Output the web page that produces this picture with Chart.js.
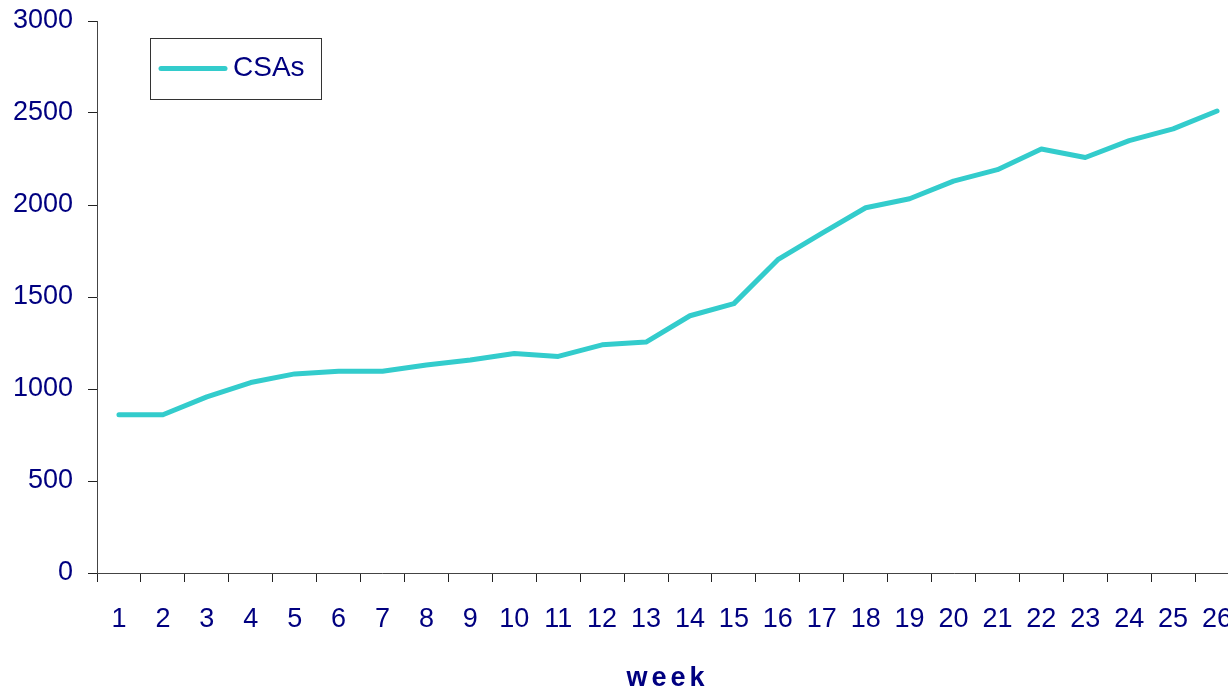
<!DOCTYPE html>
<html>
<head>
<meta charset="utf-8">
<title>CSAs per week</title>
<script src="https://cdn.jsdelivr.net/npm/chart.js@4.4.0/dist/chart.umd.min.js"></script>
<style>
  html, body { margin: 0; padding: 0; background: #fff; overflow: hidden; }
  #wrap { position: relative; width: 1239px; height: 692px; }
</style>
</head>
<body>
<div id="wrap"><canvas id="myChart"></canvas></div>
<script>
// weekly totals
var weeks = [1, 2, 3, 4, 5, 6, 7, 8, 9, 10, 11, 12, 13, 14, 15, 16, 17, 18, 19, 20, 21, 22, 23, 24, 25, 26];
var csaCounts = [860, 860, 957, 1035, 1082, 1096, 1096, 1130, 1158, 1193, 1177, 1240, 1255,
  1398, 1464, 1703, 1846, 1985, 2034, 2130, 2192, 2304, 2258, 2350, 2414, 2511];
var yMin = 0;
var yMax = 3000;
var yStep = 500;
var xTitle = "week";

var navy = "#000080";
var teal = "#33cccc";
var fontFamily = "'Liberation Sans', Arial, sans-serif";

// boxed legend sitting inside the plot area
var boxLegend = {
  id: "boxLegend",
  afterDraw: function (chart) {
    var ctx = chart.ctx;
    var ds = chart.data.datasets[0];
    ctx.save();
    ctx.strokeStyle = "#333";
    ctx.lineWidth = 1;
    ctx.strokeRect(150.5, 38.5, 171, 61);
    ctx.strokeStyle = ds.borderColor;
    ctx.lineWidth = 5;
    ctx.lineCap = "round";
    ctx.beginPath();
    ctx.moveTo(161, 68.5);
    ctx.lineTo(225, 68.5);
    ctx.stroke();
    ctx.fillStyle = navy;
    ctx.font = "28px " + fontFamily;
    ctx.textBaseline = "middle";
    ctx.fillText(ds.label, 233, 68);
    ctx.restore();
  },
};

// x axis title, spaced out
var spacedTitle = {
  id: "spacedTitle",
  afterDraw: function (chart) {
    var ctx = chart.ctx;
    var x = chart.scales.x;
    ctx.save();
    ctx.letterSpacing = "4px";
    ctx.fillStyle = navy;
    ctx.font = "bold 27px " + fontFamily;
    ctx.textAlign = "center";
    ctx.textBaseline = "middle";
    ctx.fillText(xTitle, (x.left + 1228) / 2 + 5, 679);
    ctx.restore();
  },
};

// drop the label overhang padding so the plot area is set by layout.padding only
function noOverhang(scale) {
  scale.paddingTop = 0;
  scale.paddingBottom = 0;
  scale.paddingLeft = 0;
  scale.paddingRight = 0;
}

var ctx = document.getElementById("myChart").getContext("2d");
var myChart = new Chart(ctx, {
  type: "line",
  data: {
    labels: weeks,
    datasets: [
      {
        label: "CSAs",
        data: csaCounts,
        borderColor: teal,
        backgroundColor: teal,
        borderWidth: 5,
        borderCapStyle: "round",
        borderJoinStyle: "round",
        pointRadius: 0,
        pointHoverRadius: 0,
        tension: 0,
        fill: false,
      },
    ],
  },
  options: {
    responsive: true,
    maintainAspectRatio: false,
    animation: false,
    layout: { padding: { top: 21, right: 0, left: 0, bottom: 0 } },
    plugins: {
      legend: { display: false },
      tooltip: { enabled: false },
    },
    scales: {
      x: {
        type: "category",
        offset: true,
        grid: {
          offset: true,
          drawOnChartArea: false,
          drawTicks: true,
          tickLength: 9,
          tickColor: "#222",
          tickWidth: 1,
        },
        border: { color: "#444", width: 1 },
        ticks: {
          color: navy,
          font: { family: fontFamily, size: 27 },
          padding: 21,
          maxRotation: 0,
          autoSkip: false,
        },
        afterFit: function (scale) {
          scale.height = 119;
          noOverhang(scale);
        },
      },
      y: {
        min: yMin,
        max: yMax,
        grid: {
          drawOnChartArea: false,
          drawTicks: true,
          tickLength: 9,
          tickColor: "#222",
          tickWidth: 1,
        },
        border: { color: "#444", width: 1 },
        ticks: {
          stepSize: yStep,
          color: navy,
          font: { family: fontFamily, size: 27 },
          padding: 15,
          callback: function (value) {
            return String(value);
          },
        },
        afterFit: function (scale) {
          scale.width = 97;
          noOverhang(scale);
        },
      },
    },
  },
  plugins: [boxLegend, spacedTitle],
});
</script>
</body>
</html>
